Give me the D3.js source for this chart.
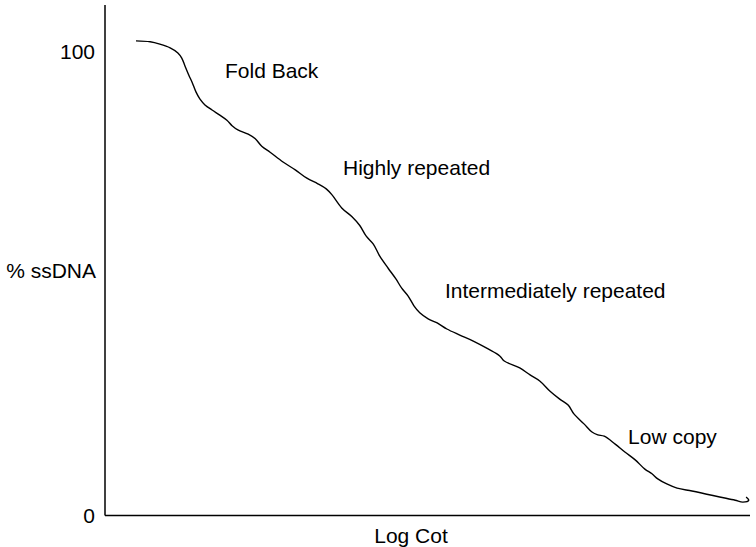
<!DOCTYPE html>
<html>
<head>
<meta charset="utf-8">
<script src="https://cdn.jsdelivr.net/npm/d3@7"></script>
<style>
  body { margin: 0; background: #fff; }
  text { font-family: Arial, "Liberation Sans", sans-serif; font-size: 21px; fill: #000; }
</style>
</head>
<body>
<div id="chart"></div>
<script>
// Cot curve
const logCot = [4.8, 7.0, 8.5, 10.1, 11.3, 11.9, 12.4, 13.0, 13.5, 14.1, 14.7, 15.5, 16.6, 17.8, 18.9, 19.7,
  20.6, 22.2, 23.3, 24.3, 25.6, 27.6, 29.5, 31.3, 33.0, 34.3, 35.2, 36.7, 38.3, 39.5, 40.5, 41.6,
  42.6, 43.9, 45.1, 46.0, 47.0, 47.9, 48.8, 50.1, 51.5, 53.0, 55.0, 57.1, 59.4, 61.2, 61.9, 64.3,
  65.9, 67.4, 69.0, 70.5, 71.8, 72.7, 74.3, 75.5, 76.4, 77.4, 79.1, 80.6, 82.2, 83.7, 84.8, 85.7,
  87.1, 88.7, 91.0, 93.3, 95.3, 97.7, 98.9, 99.8, 99.4];
const ssDNA = [102.4, 102.2, 101.7, 100.9, 99.8, 98.7, 97.0, 95.0, 93.5, 91.4, 89.9, 88.6, 87.5, 86.4, 85.3, 84.1,
  83.2, 82.3, 81.3, 79.7, 78.4, 76.3, 74.6, 72.8, 71.6, 70.5, 69.2, 66.4, 64.5, 62.6, 60.3, 58.6,
  56.0, 53.4, 51.1, 49.1, 47.4, 45.3, 43.8, 42.5, 41.6, 40.3, 39.0, 37.7, 36.0, 34.5, 33.4, 31.9,
  30.4, 29.1, 26.9, 25.2, 23.9, 22.0, 19.8, 18.1, 17.5, 17.2, 15.5, 13.8, 12.1, 10.1, 9.1, 8.0,
  6.9, 6.0, 5.4, 4.7, 4.1, 3.4, 3.0, 3.4, 4.1];

const yTicks = [0, 100];

// Region labels, positions in data units
const regionNames = ["Fold Back", "Highly repeated", "Intermediately repeated", "Low copy"];
const regionX = [18.6, 36.9, 52.7, 81.1];
const regionY = [96.0, 75.0, 48.5, 17.0];

const width = 756, height = 547;
const x0 = 105, x1 = 750, yBase = 515.5, yTop = 5;

const svg = d3.select("#chart").append("svg")
  .attr("width", width)
  .attr("height", height);

const x = d3.scaleLinear().domain([0, 100]).range([x0, x1]);
const y = d3.scaleLinear().domain([0, 100]).range([516, 52]);

// Axes lines
svg.append("line")
  .attr("x1", x0).attr("x2", x0)
  .attr("y1", yTop).attr("y2", yBase)
  .attr("stroke", "#000").attr("stroke-width", 1.5);
svg.append("line")
  .attr("x1", x0).attr("x2", x1)
  .attr("y1", yBase).attr("y2", yBase)
  .attr("stroke", "#000").attr("stroke-width", 1.5);

// Tick labels
svg.selectAll(".ytick")
  .data(yTicks)
  .enter()
  .append("text")
  .attr("class", "ytick")
  .attr("x", 95)
  .attr("y", d => y(d))
  .attr("dy", "0.35em")
  .attr("text-anchor", "end")
  .text(d => d);

// Axis titles
svg.append("text")
  .attr("x", 96).attr("y", 271)
  .attr("dy", "0.35em")
  .attr("text-anchor", "end")
  .text("% ssDNA");
svg.append("text")
  .attr("x", 411).attr("y", 536)
  .attr("dy", "0.35em")
  .attr("text-anchor", "middle")
  .text("Log Cot");

// Curve
const pts = logCot.map((d, i) => [d, ssDNA[i]]);
const line = d3.line()
  .x(d => x(d[0]))
  .y(d => y(d[1]))
  .curve(d3.curveCatmullRom);

svg.append("path")
  .datum(pts)
  .attr("d", line)
  .attr("fill", "none")
  .attr("stroke", "#000")
  .attr("stroke-width", 1.4);

// Region labels
svg.selectAll(".region")
  .data(regionNames)
  .enter()
  .append("text")
  .attr("class", "region")
  .attr("x", (d, i) => x(regionX[i]))
  .attr("y", (d, i) => y(regionY[i]))
  .attr("dy", "0.35em")
  .text(d => d);
</script>
</body>
</html>
